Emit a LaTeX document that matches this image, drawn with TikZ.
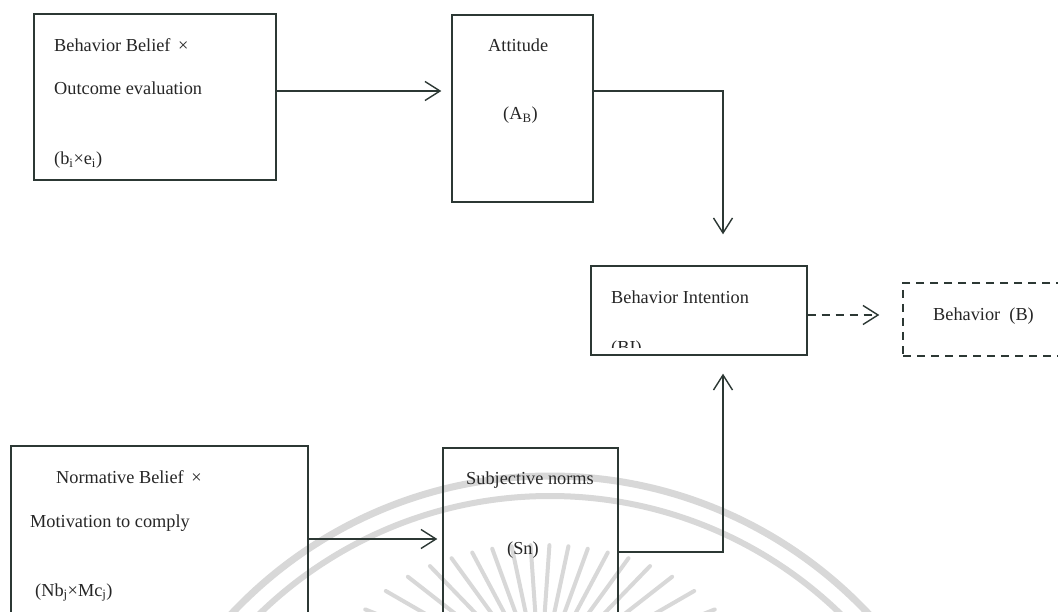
\documentclass[tikz,border=0pt]{standalone}
\usepackage{fontspec}
\setmainfont{Liberation Serif}
\usetikzlibrary{arrows.meta,calc}

\definecolor{ink}{RGB}{44,56,52}
\definecolor{mark}{RGB}{216,216,216}

\tikzset{
  box/.style={draw=ink, line width=1.4bp, rectangle, inner sep=0pt},
  dbox/.style={box, dash pattern=on 8bp off 6bp},
  lbl/.style={anchor=base west, inner sep=0pt, text=black!85,
              font=\fontsize{18.3bp}{22bp}\selectfont},
  link/.style={draw=ink, line width=1.4bp,
               -{Straight Barb[length=15bp,width=19bp]}},
  dlink/.style={link, dash pattern=on 8bp off 6bp},
  ray/.style={draw=mark, line width=4bp, line cap=round},
}

\begin{document}
\begin{tikzpicture}[x=1bp, y=-1bp]
  % page
  \clip (0,0) rectangle (1058,612);
  \fill[white] (0,0) rectangle (1058,612);

  % faint seal in the lower part of the page
  \draw[draw=mark, line width=7bp] (550,913) circle[radius=437];
  \draw[draw=mark, line width=6bp] (550,913) circle[radius=417];
  \foreach \a in {14,22,...,166} {
    % outer ends of the rays lie on an ellipse (radii 2.05 and 1.35, times 100)
    \pgfmathsetmacro{\ro}{100/sqrt((cos(\a)/2.05)^2+(sin(\a)/1.35)^2)}
    \pgfmathsetmacro{\ri}{\ro-75}
    \draw[ray] ($(540,680)+({\ri*cos(\a)},{-\ri*sin(\a)})$)
            -- ($(540,680)+({\ro*cos(\a)},{-\ro*sin(\a)})$);
  }

  % boxes
  \node[box, minimum width=242bp, minimum height=166bp] (bb)   at (155,97)     {};
  \node[box, minimum width=141bp, minimum height=187bp] (att)  at (522.5,108.5) {};
  \node[box, minimum width=216bp, minimum height=89bp]  (bi)   at (699,310.5)  {};
  \node[dbox, minimum width=177bp, minimum height=73bp] (beh)  at (991.5,319.5) {};
  \node[box, minimum width=297bp, minimum height=194bp] (norm) at (159.5,543)  {};
  \node[box, minimum width=175bp, minimum height=192bp] (sn)   at (530.5,544)  {};

  % texts
  \node[lbl] (t1) at (54,52)  {Behavior Belief \,×};
  \node[lbl] (t2) at (54,95)  {Outcome evaluation};
  \node[lbl] (t3) at (54,165) {(b\textsubscript{i}×e\textsubscript{i})};
  \node[lbl] (t4) at (488,52) {Attitude};
  \node[lbl] (t5) at (503,120) {(A\textsubscript{B})};
  \node[lbl] (t6) at (611,304) {Behavior Intention};
  \begin{scope}
    \clip (591,266) rectangle (807,347);
    \node[lbl] (t7) at (611,353) {(BI)};
  \end{scope}
  \node[lbl] (t8) at (933,320) {Behavior\ \ (B)};
  \node[lbl] (t9)  at (56,483) {Normative Belief \,×};
  \node[lbl] (t10) at (30,527) {Motivation to comply};
  \node[lbl] (t11) at (35,596) {(Nb\textsubscript{j}×Mc\textsubscript{j})};
  \node[lbl] (t12) at (466,484) {Subjective norms};
  \node[lbl] (t13) at (507,554) {(Sn)};

  % connector rows and column
  \coordinate (ya) at (0,91);
  \coordinate (yd) at (0,315);
  \coordinate (yn) at (0,539);
  \coordinate (ys) at (0,552);
  \coordinate (xr) at (723,0);

  % connectors
  \draw[link, shorten >=10bp] (bb.east |- ya) -- (att.west |- ya);
  \draw[link, shorten >=31bp] (att.east |- ya) -| (bi.north -| xr);
  \draw[dlink, shorten >=23bp] (bi.east |- yd) -- (beh.west |- yd);
  \draw[link, shorten >=5bp] (norm.east |- yn) -- (sn.west |- yn);
  \draw[link, shorten >=18bp] (sn.east |- ys) -| (bi.south -| xr);
\end{tikzpicture}
\end{document}
